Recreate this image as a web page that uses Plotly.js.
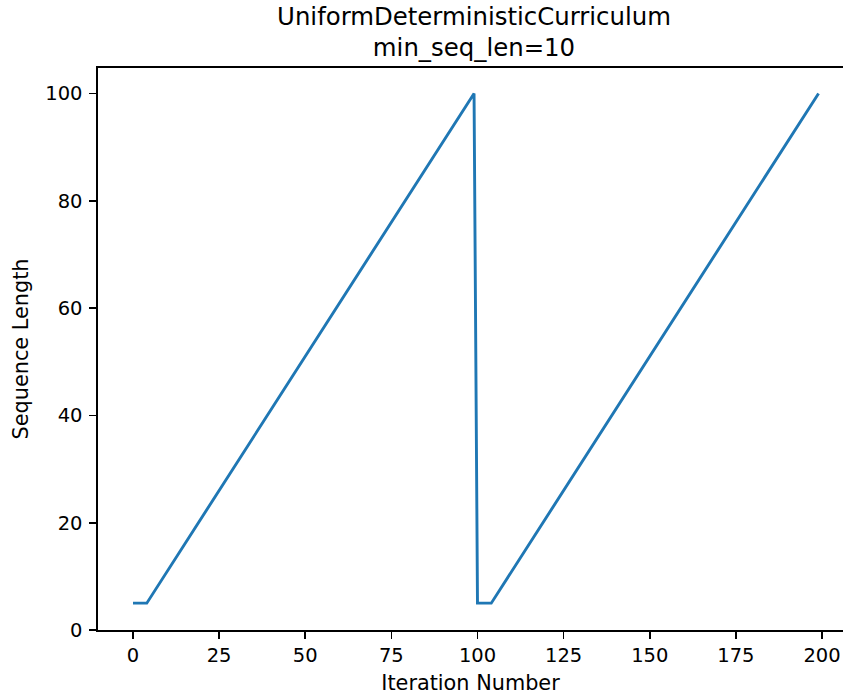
<!DOCTYPE html>
<html>
<head>
<meta charset="utf-8">
<script src="https://cdn.plot.ly/plotly-3.0.1.min.js"></script>
<style>html,body{margin:0;padding:0;background:#fff;}#chart{width:843px;height:696px;}</style>
</head>
<body>
<div id="chart"></div>
<script>
// Vertices of the curriculum schedule (iteration -> sequence length)
const iterations = [0, 4, 99, 100, 104, 199];
const seqLengths = [5, 5, 100, 5, 5, 100];
const xTicks = [0, 25, 50, 75, 100, 125, 150, 175, 200];
const yTicks = [0, 20, 40, 60, 80, 100];
const titleText = 'UniformDeterministicCurriculum<br>min_seq_len=10';
const xTitle = 'Iteration Number';
const yTitle = 'Sequence Length';

const FONT = 'DejaVu Sans, sans-serif';

const trace = {
  x: iterations, y: seqLengths, type: 'scatter', mode: 'lines',
  line: {color: '#1f77b4', width: 2.9}, hoverinfo: 'skip'
};

const layout = {
  width: 843, height: 696,
  margin: {l: 98, r: 0, t: 68, b: 65.5, pad: 0},
  paper_bgcolor: '#fff', plot_bgcolor: '#fff',
  font: {family: FONT, color: '#000', size: 19.5},
  showlegend: false,
  title: {
    text: titleText, font: {family: FONT, size: 24.4, color: '#000'},
    xref: 'container', x: 474/843, xanchor: 'center',
    yref: 'container', y: 1 - 24.5/696, yanchor: 'middle'
  },
  xaxis: {
    range: [-10.16, 206.1], tickvals: xTicks, ticktext: xTicks.map(String),
    showgrid: false, zeroline: false,
    showline: true, linecolor: '#000', linewidth: 1.6, mirror: true,
    ticks: 'outside', ticklen: 7, tickwidth: 1.6, tickcolor: '#000',
    tickfont: {family: FONT, size: 19.5, color: '#000'},
    title: {text: xTitle, font: {family: FONT, size: 20.8, color: '#000'}, standoff: 9},
    automargin: false
  },
  yaxis: {
    range: [0, 104.75], tickvals: yTicks, ticktext: yTicks.map(String),
    showgrid: false, zeroline: false,
    showline: true, linecolor: '#000', linewidth: 1.6, mirror: false,
    ticks: 'outside', ticklen: 7, tickwidth: 1.6, tickcolor: '#000',
    ticklabelstandoff: 3,
    tickfont: {family: FONT, size: 19.5, color: '#000'},
    title: {text: yTitle, font: {family: FONT, size: 20.8, color: '#000'}, standoff: 11},
    automargin: false
  }
};

Plotly.newPlot('chart', [trace], layout, {staticPlot: true, displayModeBar: false});
</script>
</body>
</html>
